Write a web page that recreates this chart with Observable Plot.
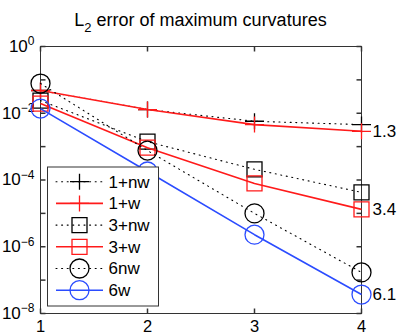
<!DOCTYPE html>
<html><head><meta charset="utf-8">
<script src="https://cdn.jsdelivr.net/npm/d3@7"></script>
<script src="https://cdn.jsdelivr.net/npm/@observablehq/plot@0.6"></script>
<style>
body{margin:0;background:#fff;font-family:"Liberation Sans",Arial,sans-serif;}
#wrap{position:relative;width:407px;height:336px;overflow:hidden;}
#title{position:absolute;left:40px;width:321px;top:11px;height:20px;line-height:18px;text-align:center;font-size:18px;color:#000;white-space:nowrap;}
#title .sub{font-size:13px;position:relative;top:6px;}
#chart{position:absolute;left:0;top:36px;}
</style></head><body>
<div id="wrap"><div id="title">L<span class="sub">2</span> error of maximum curvatures</div><div id="chart"></div></div>
<script>
// ---- data ----
const levels = [1, 2, 3, 4];
const seriesNames = ["1+nw", "1+w", "3+nw", "3+w", "6nw", "6w"];
const err1nw = [0.048, 0.0129, 0.00575, 0.00457];
const err1w  = [0.048, 0.0129, 0.00457, 0.00288];
const err3nw = [0.024, 0.00141, 2.09e-4, 4.27e-5];
const err3w  = [0.0195, 9.3e-4, 7.9e-5, 1.32e-5];
const err6nw = [0.0776, 7.6e-4, 1.0e-5, 1.7e-7];
const err6w  = [0.0138, 1.8e-4, 2.3e-6, 3.7e-8];
const orderLabels = [{series: "1+w", text: "1.3"}, {series: "3+w", text: "3.4"}, {series: "6w", text: "6.1"}];
const xTicks = [1, 2, 3, 4];
const yTicks = [1, 1e-1, 1e-2, 1e-3, 1e-4, 1e-5, 1e-6, 1e-7, 1e-8];
const yLabelTicks = [1, 1e-2, 1e-4, 1e-6, 1e-8];

const seriesValues = [err1nw, err1w, err3nw, err3w, err6nw, err6w];
const rows = seriesNames.flatMap((s, i) => levels.map((x, j) => ({series: s, x, y: seriesValues[i][j]})));

// ---- styles ----
const plusSym = {draw(c){ c.moveTo(-9.5,0); c.lineTo(9.5,0); c.moveTo(0,-8); c.lineTo(0,8); }};
const squareSym = {draw(c){ c.moveTo(-7.5,-7.5); c.lineTo(7.5,-7.5); c.lineTo(7.5,7.5); c.lineTo(-7.5,7.5); c.closePath(); }};
const circleSym = {draw(c){ c.moveTo(9.5,0); c.arc(0,0,9.5,0,2*Math.PI); c.closePath(); }};
const RED = "#ff1a1a", BLUE = "#2b4cff", BLACK = "#000";
const style = {
  "1+nw": {stroke: BLACK, dash: "1,4.6", width: 1.1, sym: plusSym},
  "1+w":  {stroke: RED, dash: null, width: 1.6, sym: plusSym},
  "3+nw": {stroke: BLACK, dash: "1,4.6", width: 1.1, sym: squareSym},
  "3+w":  {stroke: RED, dash: null, width: 1.6, sym: squareSym},
  "6nw":  {stroke: BLACK, dash: "1,4.6", width: 1.1, sym: circleSym},
  "6w":   {stroke: BLUE, dash: null, width: 1.6, sym: circleSym}
};
const tickL = {draw(c){ c.moveTo(0,0); c.lineTo(5,0); }};
const tickR = {draw(c){ c.moveTo(0,0); c.lineTo(-5,0); }};
const tickB = {draw(c){ c.moveTo(0,0); c.lineTo(0,-5); }};
const tickT = {draw(c){ c.moveTo(0,0); c.lineTo(0,5); }};
const AX = "#333";

const marks = [
  Plot.frame({stroke: AX, strokeWidth: 1}),
  Plot.dot(yTicks, {y: d => d, frameAnchor: "left", symbol: tickL, fill: "none", stroke: AX}),
  Plot.dot(yTicks, {y: d => d, frameAnchor: "right", symbol: tickR, fill: "none", stroke: AX}),
  Plot.dot(xTicks, {x: d => d, frameAnchor: "bottom", symbol: tickB, fill: "none", stroke: AX}),
  Plot.dot(xTicks, {x: d => d, frameAnchor: "top", symbol: tickT, fill: "none", stroke: AX}),
  Plot.axisX({ticks: xTicks, tickSize: 0, tickPadding: 7, label: null, fontSize: 16.5, tickFormat: d => String(d)}),
  Plot.axisY({ticks: yLabelTicks, tickSize: 0, tickPadding: 6, label: null, fontSize: 17,
    tickFormat: d => "10^" + String(Math.round(Math.log10(d))).replace("-", "\u2212")})
];
for (const s of seriesNames) {
  const st = style[s];
  const data = rows.filter(r => r.series === s);
  marks.push(Plot.line(data, {x: "x", y: "y", stroke: st.stroke, strokeWidth: st.width, strokeDasharray: st.dash, strokeLinecap: st.dash ? "round" : "butt"}));
  marks.push(Plot.dot(data, {x: "x", y: "y", symbol: st.sym, fill: "none", stroke: st.stroke, strokeWidth: 1.3}));
}
const labelRows = orderLabels.map(o => ({...rows.find(r => r.series === o.series && r.x === 4), text: o.text}));
marks.push(Plot.text(labelRows, {x: "x", y: "y", text: "text", textAnchor: "start", dx: 11, fontSize: 17, fill: "#000"}));

const plot = Plot.plot({
  width: 407, height: 300, marginTop: 10, marginBottom: 23, marginLeft: 40, marginRight: 46,
  style: {fontFamily: "'Liberation Sans', Arial, sans-serif", fontSize: "17px", background: "white", color: "#000", overflow: "visible"},
  x: {domain: [1, 4]},
  y: {type: "log", domain: [1e-8, 1]},
  marks
});
document.getElementById("chart").appendChild(plot);

// superscript exponents on y tick labels
d3.select(plot).selectAll('g[aria-label="y-axis tick label"] text').each(function(){
  const t = d3.select(this);
  const parts = t.text().split("^");
  t.text("");
  t.append("tspan").text(parts[0]);
  t.append("tspan").attr("dy", "-6.5").attr("font-size", 12).text(parts[1]);
});

// legend
const leg = d3.select(plot).append("g").attr("font-family", "'Liberation Sans', Arial, sans-serif").attr("font-size", 17).attr("text-anchor", "start");
leg.append("rect").attr("x", 47.5).attr("y", 131).attr("width", 111).attr("height", 139).attr("fill", "white").attr("stroke", AX);
seriesNames.forEach((s, i) => {
  const st = style[s];
  const y = 145.7 + i * 21.7;
  leg.append("line").attr("x1", 56).attr("x2", 103).attr("y1", y).attr("y2", y)
    .attr("stroke", st.stroke).attr("stroke-width", st.width).attr("stroke-dasharray", st.dash).attr("stroke-linecap", st.dash ? "round" : "butt");
  const p = d3.path(); st.sym.draw(p);
  leg.append("path").attr("d", p.toString()).attr("transform", `translate(79.5,${y})`).attr("fill", "none").attr("stroke", st.stroke).attr("stroke-width", 1.3);
  leg.append("text").attr("x", 108.5).attr("y", y).attr("dy", "0.35em").attr("text-anchor", "start").attr("fill", "#000").text(s);
});
</script>
</body></html>
